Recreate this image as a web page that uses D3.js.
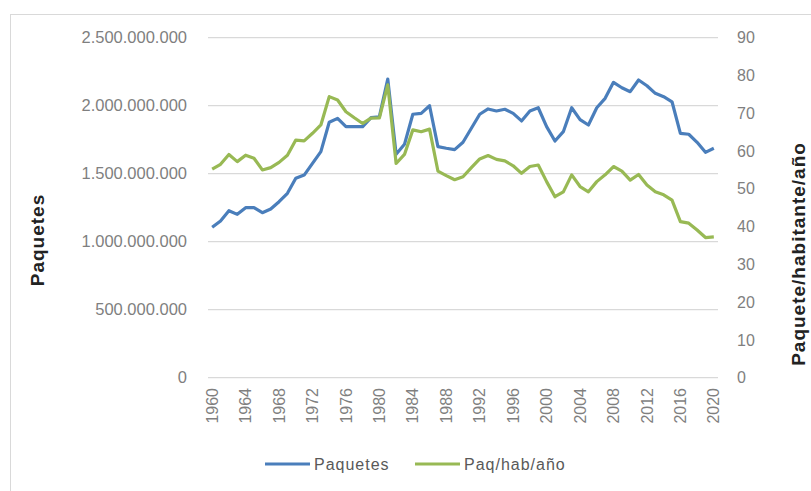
<!DOCTYPE html>
<html>
<head>
<meta charset="utf-8">
<script src="https://d3js.org/d3.v7.min.js"></script>
<style>
  body { margin: 0; background: #fff; }
  text { font-family: "Liberation Sans", Arial, sans-serif; }
</style>
</head>
<body>
<script>
// Years on the category axis
var years = d3.range(1960, 2021);
var yearTicks = d3.range(1960, 2021, 4);

// Paquetes (left axis)
var paquetes = [
  1106000000, 1152000000, 1228000000, 1201000000, 1250000000, 1250000000, 1213000000, 1240000000, 1294000000, 1356000000,
  1466000000, 1490000000, 1576000000, 1662000000, 1878000000, 1907000000, 1846000000, 1846000000, 1846000000, 1912000000,
  1919000000, 2196000000, 1643000000, 1716000000, 1937000000, 1944000000, 2000000000, 1699000000, 1687000000, 1677000000,
  1731000000, 1834000000, 1937000000, 1976000000, 1961000000, 1974000000, 1944000000, 1888000000, 1961000000, 1985000000,
  1846000000, 1740000000, 1809000000, 1985000000, 1898000000, 1858000000, 1985000000, 2054000000, 2172000000, 2132000000,
  2103000000, 2189000000, 2147000000, 2091000000, 2066000000, 2029000000, 1797000000, 1790000000, 1731000000, 1657000000,
  1687000000
];

// Paq/hab/año (right axis)
var paqHab = [
  55.2, 56.5, 59.1, 57.2, 58.9, 58.1, 55.0, 55.6, 57.0, 58.9,
  62.9, 62.7, 64.7, 66.9, 74.4, 73.5, 70.4, 68.8, 67.3, 68.7,
  68.8, 77.5, 56.7, 59.1, 65.6, 65.1, 65.8, 54.7, 53.5, 52.4,
  53.2, 55.6, 57.9, 58.8, 57.8, 57.4, 56.1, 54.1, 55.9, 56.3,
  51.9, 47.9, 49.2, 53.7, 50.6, 49.2, 51.9, 53.7, 55.9, 54.7,
  52.3, 53.8, 51.0, 49.2, 48.4, 47.0, 41.3, 40.9, 39.1, 37.1,
  37.3
];

var leftTicks = [0, 500000000, 1000000000, 1500000000, 2000000000, 2500000000];
var rightTicks = [0, 10, 20, 30, 40, 50, 60, 70, 80, 90];

var width = 811, height = 491;
var plot = {left: 208, right: 718, top: 37.7, bottom: 377.7};

var svg = d3.select('body').append('svg')
  .attr('width', width)
  .attr('height', height);

// chart area border
svg.append('rect')
  .attr('x', 10.5).attr('y', 14.5)
  .attr('width', 900).attr('height', 600)
  .attr('fill', 'none')
  .attr('stroke', '#d9d9d9');

var x = d3.scaleBand().domain(years).range([plot.left, plot.right]);
var yL = d3.scaleLinear().domain([0, 2500000000]).range([plot.bottom, plot.top]);
var yR = d3.scaleLinear().domain([0, 90]).range([plot.bottom, plot.top]);

var fmt = d3.formatLocale({decimal: ',', thousands: '.', grouping: [3], currency: ['', '']}).format(',d');

// gridlines
svg.selectAll('.grid')
  .data(leftTicks.slice(1))
  .enter().append('line')
    .attr('x1', plot.left).attr('x2', plot.right)
    .attr('y1', function (d) { return yL(d); })
    .attr('y2', function (d) { return yL(d); })
    .attr('stroke', '#d9d9d9')
    .attr('stroke-width', 1.3);

// x axis line
svg.append('line')
  .attr('x1', plot.left).attr('x2', plot.right)
  .attr('y1', plot.bottom).attr('y2', plot.bottom)
  .attr('stroke', '#d9d9d9')
  .attr('stroke-width', 1.3);

// left tick labels
svg.selectAll('.lt')
  .data(leftTicks)
  .enter().append('text')
    .attr('x', 187)
    .attr('y', function (d) { return yL(d); })
    .attr('dy', '0.35em')
    .attr('text-anchor', 'end')
    .style('font-size', '16.5px')
    .attr('fill', '#7f7f7f')
    .text(fmt);

// right tick labels
svg.selectAll('.rt')
  .data(rightTicks)
  .enter().append('text')
    .attr('x', 737)
    .attr('y', function (d) { return yR(d); })
    .attr('dy', '0.35em')
    .style('font-size', '16px')
    .attr('fill', '#7f7f7f')
    .text(function (d) { return d; });

// x tick labels, rotated
svg.selectAll('.xt')
  .data(yearTicks)
  .enter().append('text')
    .attr('transform', function (d) {
      return 'translate(' + (x(d) + x.bandwidth() / 2) + ',388) rotate(-90)';
    })
    .attr('dy', '0.35em')
    .attr('text-anchor', 'end')
    .style('font-size', '16px')
    .attr('fill', '#7f7f7f')
    .text(function (d) { return d; });

// axis titles
svg.append('text')
  .attr('transform', 'translate(44,240) rotate(-90)')
  .attr('text-anchor', 'middle')
  .style('font-size', '19px')
  .style('font-weight', 'bold')
  .style('letter-spacing', '1px')
  .attr('fill', '#222')
  .text('Paquetes');

svg.append('text')
  .attr('transform', 'translate(805,254) rotate(-90)')
  .attr('text-anchor', 'middle')
  .style('font-size', '19px')
  .style('font-weight', 'bold')
  .style('letter-spacing', '1px')
  .attr('fill', '#222')
  .text('Paquete/habitante/año');

// lines
var cx = function (i) { return x(years[i]) + x.bandwidth() / 2; };

var lineL = d3.line()
  .x(function (d, i) { return cx(i); })
  .y(function (d) { return yL(d); });
var lineR = d3.line()
  .x(function (d, i) { return cx(i); })
  .y(function (d) { return yR(d); });

svg.append('path')
  .datum(paquetes)
  .attr('d', lineL)
  .attr('fill', 'none')
  .attr('stroke', '#4a7ebb')
  .attr('stroke-width', 3.2)
  .attr('stroke-linejoin', 'round');

svg.append('path')
  .datum(paqHab)
  .attr('d', lineR)
  .attr('fill', 'none')
  .attr('stroke', '#98b954')
  .attr('stroke-width', 3.2)
  .attr('stroke-linejoin', 'round');

// legend
var legend = [
  {name: 'Paquetes', color: '#4a7ebb', x: 265},
  {name: 'Paq/hab/año', color: '#98b954', x: 415}
];
var lg = svg.selectAll('.lg')
  .data(legend)
  .enter().append('g')
    .attr('transform', function (d) { return 'translate(' + d.x + ',464)'; });
lg.append('line')
  .attr('x1', 0).attr('x2', 45)
  .attr('stroke', function (d) { return d.color; })
  .attr('stroke-width', 3);
lg.append('text')
  .attr('x', 49)
  .attr('dy', '0.35em')
  .style('font-size', '16px')
  .style('letter-spacing', '1px')
  .attr('fill', '#595959')
  .text(function (d) { return d.name; });
</script>
</body>
</html>
